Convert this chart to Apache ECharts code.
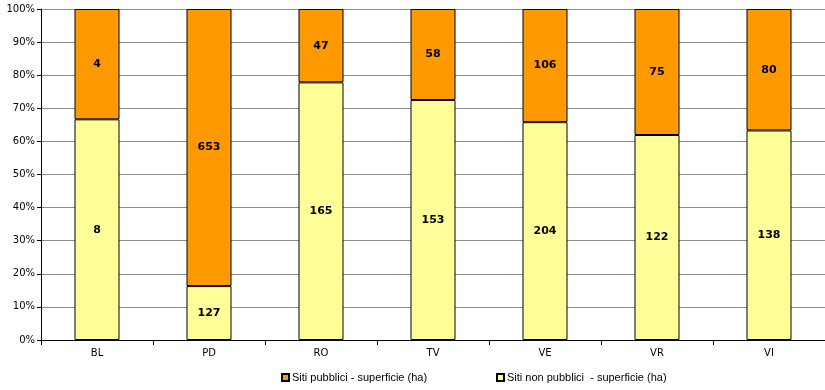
<!DOCTYPE html>
<html><head><meta charset="utf-8">
<script src="https://cdn.jsdelivr.net/npm/echarts@6/dist/echarts.min.js"></script>
<style>html,body{margin:0;padding:0;background:#fff}#c{width:825px;height:390px}</style>
</head><body><div id="c"></div>
<script>
const categories = ['BL','PD','RO','TV','VE','VR','VI'];
const pubblici = [4,653,47,58,106,75,80];
const nonPubblici = [8,127,165,153,204,122,138];
const yTicks = [0,10,20,30,40,50,60,70,80,90,100];
const nameP = 'Siti pubblici - superficie (ha)';
const nameN = 'Siti non pubblici  - superficie (ha)';

const totals = categories.map((c,i)=>pubblici[i]+nonPubblici[i]);
const pctN = nonPubblici.map((v,i)=>({value: v/totals[i]*100, raw: v}));
const pctP = pubblici.map((v,i)=>({value: v/totals[i]*100, raw: v}));

const font = 'Verdana, "DejaVu Sans", sans-serif';
const lfont = '"Liberation Sans", Arial, sans-serif';
const chart = echarts.init(document.getElementById('c'), null, {renderer:'canvas'});
chart.setOption({
  animation:false,
  textStyle:{fontFamily:font},
  grid:{left:41,right:0,top:9,bottom:50},
  xAxis:{
    type:'category', data:categories,
    axisLine:{lineStyle:{color:'#000',width:1}},
    axisTick:{show:true,length:5,lineStyle:{color:'#000'}},
    axisLabel:{color:'#000',fontSize:10,margin:8,fontFamily:font}
  },
  yAxis:{
    type:'value', min:yTicks[0], max:yTicks[yTicks.length-1], interval:10,
    axisLine:{show:true,lineStyle:{color:'#000',width:1}},
    axisTick:{show:true,length:4,inside:false,lineStyle:{color:'#000'}},
    axisLabel:{formatter:'{value}%',color:'#000',fontSize:10,margin:6,fontFamily:font},
    splitLine:{lineStyle:{color:'#8c8c8c',width:1}}
  },
  legend:[{
    data:[nameP], left:281, top:372, padding:0, itemWidth:7, itemHeight:7, itemGap:2,
    textStyle:{fontSize:11,color:'#000',fontFamily:lfont,padding:[0,0,0,-2]},
    icon:'rect'
  },{
    data:[nameN], left:496, top:372, padding:0, itemWidth:7, itemHeight:7, itemGap:2,
    textStyle:{fontSize:11,color:'#000',fontFamily:lfont,padding:[0,0,0,-2]},
    icon:'rect'
  }],
  series:[{
    name:nameN, type:'bar', stack:'a', data:pctN, barWidth:45,
    itemStyle:{color:'#FFFF99',borderColor:'#000',borderWidth:1},
    label:{show:true,position:'inside',formatter:p=>p.data.raw,color:'#000',fontWeight:'bold',fontSize:11,fontFamily:font}
  },{
    name:nameP, type:'bar', stack:'a', data:pctP, barWidth:45,
    itemStyle:{color:'#FF9900',borderColor:'#000',borderWidth:1},
    label:{show:true,position:'inside',formatter:p=>p.data.raw,color:'#000',fontWeight:'bold',fontSize:11,fontFamily:font}
  }]
});
</script></body></html>
